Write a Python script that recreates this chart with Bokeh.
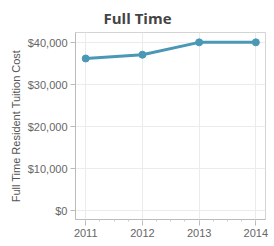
from bokeh.plotting import figure
from bokeh.models import NumeralTickFormatter, FixedTicker, Range1d
from bokeh.embed import file_html
from bokeh.resources import INLINE

years = [2011, 2012, 2013, 2014]
cost = [36300, 37200, 40150, 40150]
y_ticks = [0, 10000, 20000, 30000, 40000]

p = figure(width=274, height=246, output_backend="svg", toolbar_location=None,
           x_range=Range1d(2010.82, 2014.17), y_range=Range1d(-2100, 42500),
           min_border_left=75, min_border_right=9, min_border_top=31, min_border_bottom=27)

p.title.text = "Full Time"
p.title.align = "left"
p.title.offset = 28
p.title.text_font = "Open Sans"
p.title.text_font_size = "15px"
p.title.text_font_style = "bold"
p.title.text_color = "#444444"

p.line(years, cost, line_color="#4a98b6", line_width=3)
p.scatter(years, cost, size=7, fill_color="#4a98b6", line_color="#4a98b6")

p.xaxis.ticker = FixedTicker(ticks=years, minor_ticks=[2011 + i * 0.25 for i in range(13)])
p.yaxis.ticker = FixedTicker(ticks=y_ticks)
p.yaxis.formatter = NumeralTickFormatter(format="$0,0")
p.xaxis.formatter = NumeralTickFormatter(format="0")

for ax in (p.xaxis, p.yaxis):
    ax.axis_line_color = "#bbbbbb"
    ax.major_tick_line_color = "#bbbbbb"
    ax.minor_tick_line_color = "#cccccc"
    ax.major_tick_in = 0
    ax.major_tick_out = 5
    ax.minor_tick_in = 0
    ax.minor_tick_out = 2
    ax.major_label_text_font = "Liberation Sans"
    ax.major_label_text_font_size = "11px"
    ax.major_label_text_color = "#666666"
p.yaxis.minor_tick_line_color = None
p.xaxis.major_tick_out = 6
p.xaxis.major_label_standoff = 3
p.yaxis.major_label_standoff = 3

p.yaxis.axis_label = "Full Time Resident Tuition Cost"
p.yaxis.axis_label_text_font = "Liberation Sans"
p.yaxis.axis_label_text_font_size = "11px"
p.yaxis.axis_label_text_font_style = "normal"
p.yaxis.axis_label_text_color = "#555555"
p.yaxis.axis_label_standoff = 3

p.xgrid.ticker = FixedTicker(ticks=years)
p.ygrid.ticker = FixedTicker(ticks=y_ticks)
p.xgrid.grid_line_color = "#ebebeb"
p.ygrid.grid_line_color = "#ebebeb"
p.outline_line_color = "#d4d4d4"
p.background_fill_color = "white"
p.border_fill_color = "white"

open("out.html", "w").write(file_html(p, INLINE))
